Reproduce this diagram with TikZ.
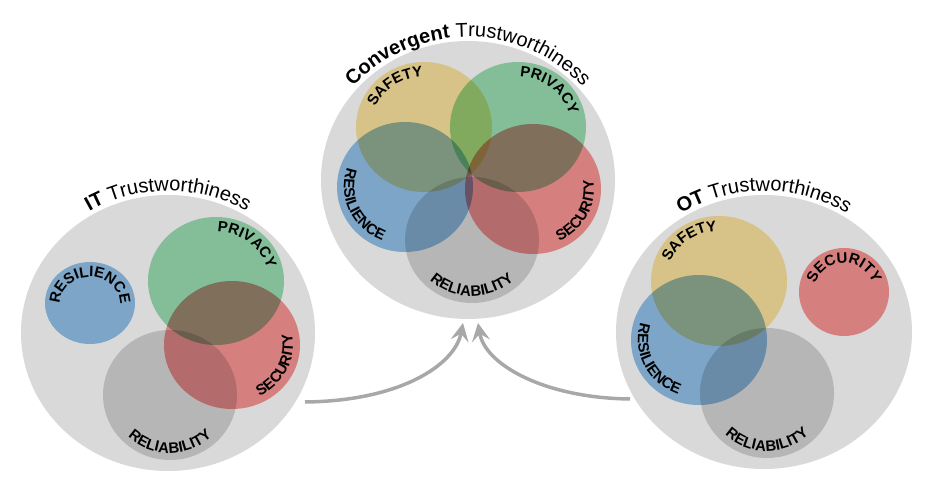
\documentclass[tikz,border=0pt]{standalone}
\usepackage{fontspec}
\setmainfont{Liberation Sans}
\usetikzlibrary{calc,decorations.text,arrows.meta}
\definecolor{discgray}{RGB}{217,217,217}
\definecolor{flowgray}{RGB}{168,168,168}
\definecolor{petalblue}{RGB}{147,194,235}
\definecolor{petalyellow}{RGB}{253,229,159}
\definecolor{petalgreen}{RGB}{155,224,180}
\definecolor{petalred}{RGB}{251,150,150}
\definecolor{petalgray}{RGB}{215,215,215}
\tikzstyle{disc}=[fill=discgray]
\tikzstyle{petal}=[blend mode=multiply]
\tikzstyle{flow}=[draw=flowgray,line width=3.5pt,-{Stealth[length=18pt,width=18pt,inset=7pt]}]
\newcommand{\lblfont}{\fontsize{15}{15}\selectfont\bfseries}
\newcommand{\ttlfont}{\fontsize{20}{20}\selectfont}
\newcommand{\outlabel}[5]{% (center) mid angle, rx, ry, text -- letters stand outward
\pgfmathsetmacro{\lrx}{#3-15}
\pgfmathsetmacro{\lry}{#4-15}
\pgfmathsetmacro{\lsa}{#2+100}
\pgfmathsetmacro{\lea}{#2-100}
\path[decorate,decoration={text along path,text align=center,text={|\lblfont|#5}}]
  ($(#1)+({\lrx*cos(\lsa)},{\lry*sin(\lsa)})$) arc[start angle=\lsa,end angle=\lea,x radius=\lrx pt,y radius=\lry pt];
}
\newcommand{\inlabel}[5]{% letters stand inward
\pgfmathsetmacro{\lrx}{#3-7}
\pgfmathsetmacro{\lry}{#4-7}
\pgfmathsetmacro{\lsa}{#2-100}
\pgfmathsetmacro{\lea}{#2+100}
\path[decorate,decoration={text along path,text align=center,text={|\lblfont|#5}}]
  ($(#1)+({\lrx*cos(\lsa)},{\lry*sin(\lsa)})$) arc[start angle=\lsa,end angle=\lea,x radius=\lrx pt,y radius=\lry pt];
}
\newcommand{\discname}[5]{% (center) rx, ry, bold part, rest
\pgfmathsetmacro{\lrx}{#2+4}
\pgfmathsetmacro{\lry}{#3+4}
\path[decorate,decoration={text along path,text align=center,text={|\ttlfont\bfseries|#4 |\ttlfont\mdseries|#5}}]
  ($(#1)+({\lrx*cos(160)},{\lry*sin(160)})$) arc[start angle=160,end angle=20,x radius=\lrx pt,y radius=\lry pt];
}

\begin{document}
\begin{tikzpicture}[x=1pt,y=1pt]
\useasboundingbox (0,0) rectangle (929,485);
% IT
\coordinate (it) at (168,152);
\coordinate (itres) at (90,182);
\coordinate (itpri) at (216,204);
\coordinate (itsec) at (232,140);
\coordinate (itrel) at (170,90);
% convergent
\coordinate (cv) at (468,305);
\coordinate (cvsaf) at (424,358);
\coordinate (cvpri) at (518,358);
\coordinate (cvres) at (405,298);
\coordinate (cvsec) at (533,296);
\coordinate (cvrel) at (472,245);
% OT
\coordinate (ot) at (764,153);
\coordinate (otsaf) at (719,204);
\coordinate (otsec) at (844,193);
\coordinate (otres) at (699,145);
\coordinate (otrel) at (767,92);

\fill[disc] (it) ellipse [x radius=147,y radius=138];
\fill[disc] (cv) ellipse [x radius=147,y radius=139];
\fill[disc] (ot) ellipse [x radius=148,y radius=137];

\fill[petal,fill=petalblue] (itres) ellipse [x radius=45,y radius=41];
\fill[petal,fill=petalgreen] (itpri) ellipse [x radius=68,y radius=64];
\fill[petal,fill=petalred] (itsec) ellipse [x radius=68,y radius=64];
\fill[petal,fill=petalgray] (itrel) ellipse [x radius=67,y radius=65];

\fill[petal,fill=petalyellow] (cvsaf) ellipse [x radius=68,y radius=65];
\fill[petal,fill=petalgreen] (cvpri) ellipse [x radius=68,y radius=65];
\fill[petal,fill=petalblue] (cvres) ellipse [x radius=68,y radius=65];
\fill[petal,fill=petalred] (cvsec) ellipse [x radius=68,y radius=65];
\fill[petal,fill=petalgray] (cvrel) ellipse [x radius=67,y radius=63];

\fill[petal,fill=petalyellow] (otsaf) ellipse [x radius=68,y radius=65];
\fill[petal,fill=petalred] (otsec) ellipse [x radius=45,y radius=44];
\fill[petal,fill=petalblue] (otres) ellipse [x radius=68,y radius=65];
\fill[petal,fill=petalgray] (otrel) ellipse [x radius=67,y radius=65];

\outlabel{itres}{90}{45}{41}{RESILIENCE}
\outlabel{itpri}{50}{68}{64}{PRIVACY}
\inlabel{itsec}{-25}{68}{64}{SECURITY}
\inlabel{itrel}{-90}{67}{65}{RELIABILITY}

\outlabel{cvsaf}{125}{68}{65}{SAFETY}
\outlabel{cvpri}{50}{68}{65}{PRIVACY}
\inlabel{cvres}{204}{68}{65}{RESILIENCE}
\inlabel{cvsec}{-27}{68}{65}{SECURITY}
\inlabel{cvrel}{-90}{67}{63}{RELIABILITY}

\outlabel{otsaf}{126}{68}{65}{SAFETY}
\outlabel{otsec}{90}{45}{44}{SECURITY}
\inlabel{otres}{206}{68}{65}{RESILIENCE}
\inlabel{otrel}{-90}{67}{65}{RELIABILITY}

\discname{it}{147}{138}{IT}{Trustworthiness}
\discname{cv}{147}{139}{Convergent}{Trustworthiness}
\discname{ot}{148}{137}{OT}{Trustworthiness}

\coordinate (itout) at (305,83);
\coordinate (otout) at (630,86);
\coordinate (cvinl) at (463,162);
\coordinate (cvinr) at (478,162);
\draw[flow] (itout) .. controls (400,84) and (455,120) .. (cvinl);
\draw[flow] (otout) .. controls (545,87) and (485,120) .. (cvinr);
\end{tikzpicture}
\end{document}
